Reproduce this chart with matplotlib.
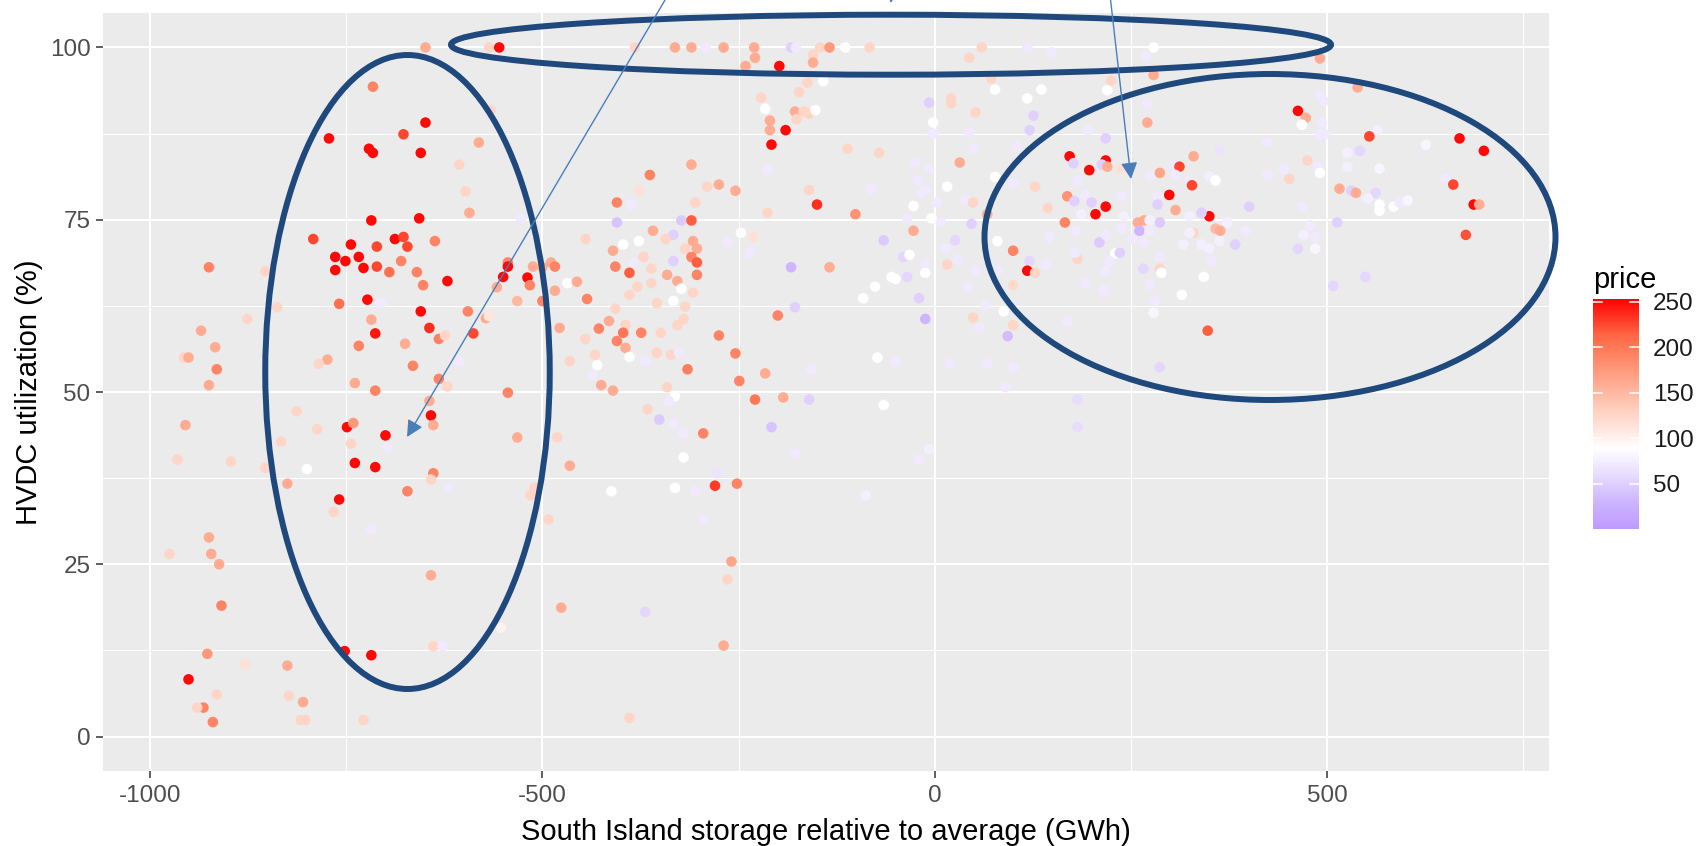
import matplotlib
matplotlib.use('Agg')
import numpy as np
import matplotlib.pyplot as plt
from matplotlib.colors import LinearSegmentedColormap
from matplotlib.patches import Ellipse, FancyArrowPatch

plt.rcParams['font.family'] = ['Liberation Sans', 'DejaVu Sans']
plt.rcParams['axes.unicode_minus'] = False

# South Island storage relative to average (GWh)
storage = [
    # left cluster, upper half
    -649, -568, -555, -716, -649, -677, -772, -721, -716, -655,
    -581, -566, -606, -598, -593, -527, -718, -657, -792, -688,
    -677, -672, -637, -744, -711, -764, -751, -734, -764, -728,
    -711, -695, -680, -660, -652, -621, -544, -544, -550, -519,
    -516, -558, -512, -500, -489, -484, -468, -456, -484, -532,
    -500, -925, -853, -838, -876, -935, -917, -957, -951, -915,
    -925, -759, -723, -706, -655, -718, -644, -713, -632, -624,
    -734, -675, -595, -572, -568, -588, -478, -774, -785, -665,
    -606, -465, -739, -713, -632, -621, -544,
    # left cluster, lower half
    -955, -965, -897, -853, -833, -813, -787, -800, -825, -749,
    -741, -744, -700, -698, -642, -644, -639, -670, -739, -713,
    -759, -766, -718, -639, -642, -672, -619, -532, -481, -465,
    -515, -510, -492, -925, -922, -975, -912, -909, -642, -476,
    -553, -639, -627, -927, -752, -718, -879, -825, -951, -915,
    -823, -805, -932, -940, -920, -808, -802, -728,
    # middle, upper half
    -382, -331, -310, -292, -269, -230, -183, -177, -146, -134,
    -114, -83, 60, 118, 149, -229, -241, -198, -155, -155,
    44, -162, -142, -173, -221, -216, -178, -167, -160, -152,
    -176, -210, -210, -190, -208, -213, -111, -71, -7, 21,
    21, 52, -2, -2, 77, 118, 136, 126, 121, 44,
    49, 105, 72, -25, -7, 32, -22, -12, -17, 16,
    77, 100, 128, -81, -160, -150, -101, -213, -27, 3,
    -35, -4, 8, 39, 49, 47, 67, 144, -27, -65,
    26, 14, 80, 100, 121, 118, 128, 141, 146, -40,
    -32, -12, 16, 29, 52, 80, -12, -35, -55, -50,
    -76, -91, -20, -12, 42, 65, 100, 88, 100, 49,
    57, 93, -73, -50, 19, 67, 100, 90, -157, -183,
    -134, -178, -200, -275, -254, -315, -249, -216, -247, -231,
    -264, -236, -254, -275, -290, -310, -363, -377, -405, -387,
    -405, -359, -323, -310, -305, -333, -343, -377, -397, -410,
    -445, -308, -303, -318, -310, -303, -303, -333, -371, -384,
    -407, -389, -361, -341, -328, -323, -361, -379, -389, -443,
    -407, -354, -333, -318, -308, -415, -394, -428, -397, -374,
    -405, -394, -349, -328, -320, -354, -336, -326, -369, -389,
    -430, -433, -445, -425, -410, -436, -341,
    # middle, lower half
    -331, -339, -366, -351, -333, -320, -295, -320, -277, -280,
    -252, -412, -331, -305, -295, -229, -193, -160, -208, -178,
    -65, -7, -20, -88, -259, -264, -369, -269, -389,
    # right cluster
    279, 269, 491, 225, 279, 220, 539, 271, 271, 491,
    496, 195, 218, 463, 473, 468, 493, 491, 498, 424,
    363, 330, 172, 177, 218, 213, 197, 220, 236, 182,
    307, 312, 287, 274, 307, 325, 328, 350, 358, 169,
    192, 178, 200, 218, 205, 187, 238, 299, 285, 284,
    307, 350, 325, 340, 241, 259, 267, 274, 287, 261,
    274, 166, 179, 238, 210, 218, 252, 266, 358, 364,
    373, 330, 325, 317, 340, 350, 363, 383, 396, 401,
    424, 445, 452, 475, 488, 491, 468, 516, 531, 537,
    526, 542, 564, 554, 526, 567, 562, 552, 567, 567,
    585, 593, 603, 626, 669, 700, 651, 661, 687, 694,
    677, 513, 478, 470, 485, 463, 485, 182, 179, 230,
    236, 223, 218, 287, 353, 266, 287, 289, 343, 192,
    215, 274, 315, 281, 279, 169, 348, 287, 549, 508,
    182, 182,
]

# HVDC utilization (%)
hvdc = [
    100, 100, 100, 94.3, 89.1, 87.4, 86.8, 85.3, 84.7, 84.7,
    86.2, 90.9, 83.0, 79.1, 76.0, 75.2, 74.9, 75.2, 72.2, 72.2,
    72.5, 71.1, 71.9, 71.4, 71.1, 69.6, 69.0, 69.6, 67.7, 68.0,
    68.2, 67.4, 69.0, 67.4, 65.5, 66.1, 68.8, 68.2, 66.7, 66.6,
    65.5, 65.2, 68.2, 68.1, 68.8, 68.2, 65.8, 66.0, 64.7, 63.2,
    63.2, 68.1, 67.5, 62.3, 60.6, 58.9, 56.5, 55.0, 55.0, 53.3,
    51.0, 62.8, 63.4, 62.9, 61.7, 60.5, 59.3, 58.5, 57.7, 58.2,
    56.7, 57.0, 61.7, 60.7, 61.0, 58.5, 59.3, 54.7, 54.1, 53.8,
    54.5, 54.5, 51.3, 50.2, 51.9, 50.8, 49.9,
    45.2, 40.2, 39.9, 39.0, 42.8, 47.2, 44.6, 38.8, 36.7, 44.9,
    45.5, 42.5, 43.7, 42.0, 46.6, 48.7, 45.2, 45.5, 39.7, 39.1,
    34.4, 32.6, 30.1, 38.2, 37.3, 35.6, 36.1, 43.4, 43.4, 39.3,
    35.0, 36.1, 31.5, 28.9, 26.5, 26.5, 25.0, 19.0, 23.4, 18.7,
    15.8, 13.1, 13.1, 12.0, 12.4, 11.8, 10.5, 10.3, 8.3, 6.1,
    5.9, 5.0, 4.2, 4.2, 2.1, 2.4, 2.4, 2.4,
    100, 100, 100, 100, 100, 100, 100, 100, 100, 100,
    100, 100, 100, 100, 99.3, 98.5, 97.3, 97.3, 98.9, 97.8,
    98.5, 94.9, 95.1, 93.5, 92.7, 91.1, 90.7, 90.7, 90.4, 90.9,
    89.6, 89.4, 88.0, 88.0, 85.9, 82.2, 85.3, 84.7, 92.0, 92.6,
    91.9, 90.6, 89.1, 87.5, 93.9, 92.6, 93.9, 90.1, 88.0, 87.7,
    85.3, 85.6, 95.5, 83.3, 82.4, 83.3, 80.7, 79.3, 78.8, 79.8,
    81.2, 80.3, 79.8, 79.5, 79.3, 77.2, 75.8, 76.0, 77.0, 77.5,
    75.2, 75.2, 74.6, 77.9, 77.5, 74.4, 75.8, 76.7, 73.4, 72.0,
    72.0, 70.8, 71.9, 70.5, 69.0, 67.6, 67.3, 68.5, 72.5, 69.6,
    69.9, 68.5, 68.5, 69.2, 67.6, 67.6, 67.3, 66.7, 66.7, 66.4,
    65.3, 63.6, 63.6, 60.6, 65.3, 62.6, 65.5, 61.7, 59.7, 60.8,
    59.3, 58.1, 55.0, 54.4, 54.1, 54.1, 53.6, 50.7, 53.3, 68.1,
    68.1, 62.3, 61.1, 58.2, 55.6, 53.3, 51.6, 52.7, 73.1, 72.5,
    71.7, 70.2, 79.2, 80.1, 79.8, 83.0, 81.5, 79.3, 77.5, 77.2,
    74.6, 73.4, 74.9, 74.9, 77.5, 72.8, 72.2, 71.9, 71.4, 70.5,
    72.2, 71.9, 70.8, 70.8, 69.6, 68.8, 67.0, 69.0, 69.6, 68.8,
    68.2, 67.3, 67.9, 67.0, 66.1, 65.0, 65.8, 65.3, 64.1, 63.5,
    62.1, 62.9, 63.2, 62.4, 64.4, 60.3, 59.7, 59.2, 58.6, 58.6,
    57.4, 56.4, 58.6, 59.7, 60.6, 55.7, 55.4, 55.7, 54.5, 55.1,
    53.9, 55.4, 57.7, 51.0, 50.2, 52.5, 50.7,
    49.4, 48.7, 47.5, 46.0, 45.4, 44.0, 44.0, 40.5, 38.2, 36.4,
    36.7, 35.6, 36.1, 35.6, 31.5, 48.9, 49.2, 48.9, 44.9, 41.1,
    48.1, 41.7, 40.2, 35.0, 25.4, 22.8, 18.1, 13.2, 2.7,
    100, 98.7, 98.4, 95.2, 96.0, 93.8, 94.2, 91.8, 89.1, 93.2,
    92.2, 88.0, 86.8, 90.8, 89.8, 88.8, 89.1, 87.4, 87.4, 86.2,
    85.1, 84.2, 84.2, 83.2, 83.6, 83.0, 82.2, 82.7, 82.4, 80.7,
    83.0, 82.7, 81.8, 81.3, 81.5, 80.7, 80.0, 81.3, 80.7, 78.4,
    78.6, 77.7, 77.5, 76.9, 75.8, 75.8, 78.4, 78.6, 78.4, 77.2,
    76.4, 75.5, 75.5, 76.0, 75.5, 74.6, 74.9, 74.9, 74.6, 73.4,
    73.4, 74.6, 73.4, 73.7, 71.7, 72.8, 72.2, 71.7, 73.7, 73.4,
    74.6, 73.1, 73.1, 71.4, 71.4, 70.8, 71.9, 71.4, 73.4, 76.9,
    81.5, 82.4, 80.9, 83.6, 82.7, 81.8, 76.9, 79.5, 79.2, 78.9,
    84.7, 85.0, 88.0, 87.1, 82.7, 82.4, 78.9, 78.1, 77.2, 76.3,
    76.9, 77.5, 77.8, 85.9, 86.8, 85.0, 81.0, 80.1, 77.2, 77.2,
    72.8, 74.6, 74.2, 72.8, 72.5, 70.8, 70.8, 69.3, 70.2, 70.1,
    70.2, 69.0, 67.6, 69.6, 69.0, 67.9, 67.9, 67.3, 66.7, 65.8,
    64.7, 65.6, 64.1, 63.2, 61.5, 60.3, 58.9, 53.6, 66.7, 65.4,
    48.9, 44.9,
]

# price (colour of each point)
price = [
    160, 125, 250, 190, 250, 225, 250, 250, 250, 250,
    160, 125, 125, 125, 160, 70, 250, 250, 225, 250,
    225, 225, 190, 250, 225, 250, 250, 250, 250, 250,
    225, 205, 190, 190, 190, 250, 190, 250, 250, 250,
    190, 160, 160, 160, 160, 190, 88, 160, 160, 150,
    190, 190, 125, 125, 125, 160, 160, 125, 160, 190,
    160, 205, 250, 70, 250, 160, 235, 245, 190, 125,
    190, 160, 190, 160, 110, 225, 160, 160, 125, 190,
    70, 125, 160, 190, 190, 125, 190,
    160, 125, 125, 125, 125, 125, 125, 88, 160, 250,
    175, 125, 250, 70, 250, 160, 160, 110, 250, 250,
    250, 125, 70, 190, 125, 190, 70, 160, 125, 160,
    125, 125, 125, 160, 160, 125, 160, 190, 160, 160,
    100, 125, 70, 175, 250, 250, 115, 160, 250, 125,
    125, 160, 190, 125, 190, 125, 125, 125,
    125, 160, 160, 70, 160, 160, 50, 70, 125, 175,
    88, 125, 125, 70, 70, 160, 160, 250, 125, 160,
    125, 125, 88, 125, 125, 88, 160, 125, 125, 88,
    125, 160, 160, 250, 250, 70, 125, 125, 50, 125,
    125, 125, 88, 70, 88, 88, 88, 50, 50, 70,
    70, 70, 125, 70, 70, 160, 70, 70, 70, 88,
    88, 70, 125, 70, 125, 235, 180, 125, 88, 70,
    70, 88, 70, 70, 125, 50, 160, 125, 160, 45,
    55, 70, 88, 190, 55, 250, 125, 70, 70, 55,
    88, 70, 125, 70, 70, 70, 88, 55, 88, 88,
    88, 88, 50, 30, 70, 70, 120, 88, 125, 125,
    70, 35, 88, 70, 70, 70, 70, 70, 70, 30,
    160, 50, 190, 190, 190, 195, 190, 160, 88, 115,
    70, 70, 160, 160, 125, 160, 190, 115, 190, 70,
    40, 160, 45, 215, 125, 50, 125, 88, 88, 160,
    125, 160, 160, 125, 190, 215, 190, 50, 125, 70,
    190, 215, 125, 160, 160, 88, 125, 125, 125, 190,
    125, 125, 88, 125, 125, 160, 125, 190, 200, 190,
    190, 160, 125, 125, 125, 125, 125, 70, 70, 88,
    88, 125, 125, 160, 160, 70, 125,
    88, 70, 125, 45, 70, 70, 190, 88, 65, 230,
    190, 88, 88, 70, 70, 200, 160, 50, 40, 70,
    88, 75, 70, 75, 165, 125, 55, 160, 125,
    88, 70, 160, 125, 160, 88, 160, 70, 160, 70,
    70, 70, 50, 250, 160, 88, 70, 70, 70, 70,
    65, 160, 250, 50, 250, 50, 250, 160, 115, 70,
    70, 225, 165, 70, 70, 70, 225, 75, 88, 180,
    70, 50, 50, 250, 250, 75, 70, 250, 70, 50,
    160, 250, 75, 50, 75, 160, 160, 75, 45, 30,
    70, 190, 70, 70, 45, 70, 70, 70, 150, 160,
    75, 125, 75, 75, 75, 75, 75, 50, 70, 50,
    70, 70, 125, 125, 70, 88, 70, 160, 50, 160,
    75, 55, 75, 225, 75, 80, 55, 75, 88, 88,
    85, 70, 80, 80, 250, 250, 70, 225, 250, 160,
    220, 50, 70, 75, 70, 55, 80, 125, 70, 88,
    50, 70, 70, 70, 70, 55, 125, 88, 88, 70,
    70, 70, 88, 70, 80, 70, 215, 55, 55, 55,
    60, 60,
]

x_ticks = [-1000, -500, 0, 500]
y_ticks = [0, 25, 50, 75, 100]
legend_ticks = [50, 100, 150, 200, 250]

W, H = 1698, 846
DPI = 100


def fig_xy(px, py):
    """Pixel position (origin top-left) -> figure fraction."""
    return px / W, 1 - py / H


# gradient2-like scale: purple -> white -> red
p_lo, p_hi = 0.5, 253
nodes = [(0.5, '#BE9CFF'), (30, '#CFB6FF'), (60, '#E8DDFF'), (88, '#FFFFFF'),
         (131, '#FFCFBE'), (171, '#FF9E81'), (212, '#FF6846'), (253, '#FF0000')]
cmap = LinearSegmentedColormap.from_list(
    'price', [((p - p_lo) / (p_hi - p_lo), c) for p, c in nodes])

fig = plt.figure(figsize=(W / DPI, H / DPI), dpi=DPI)
ax = fig.add_axes([103 / W, 75 / H, 1446 / W, 758 / H])
ax.set_facecolor('#EBEBEB')
for s in ax.spines.values():
    s.set_visible(False)

ax.set_xlim(-1060, 783)
ax.set_ylim(-5, 105)
ax.set_xticks(x_ticks)
ax.set_yticks(y_ticks)
ax.set_xticks([-750, -250, 250, 750], minor=True)
ax.set_yticks([12.5, 37.5, 62.5, 87.5], minor=True)
ax.grid(True, which='major', color='white', linewidth=1.5)
ax.grid(True, which='minor', color='white', linewidth=0.75)
ax.set_axisbelow(True)
ax.tick_params(which='major', length=5, width=1.1, color='#333333',
               labelsize=17.5, labelcolor='#4D4D4D')
ax.tick_params(axis='x', which='major', pad=5)
ax.tick_params(axis='y', which='major', pad=4)
ax.tick_params(which='minor', length=0)

ax.scatter(storage, hvdc, c=price, cmap=cmap, vmin=p_lo, vmax=p_hi,
           s=58, edgecolors='none', zorder=3)

fig.text(*fig_xy(826, 832), 'South Island storage relative to average (GWh)',
         ha='center', va='center', fontsize=21, color='black')
fig.text(*fig_xy(29, 392), 'HVDC utilization (%)', rotation=90,
         ha='center', va='center', fontsize=21, color='black')

# colour bar legend
fig.text(*fig_xy(1593, 288), 'price', ha='left', va='baseline',
         fontsize=21, color='black')
cax = fig.add_axes([1593 / W, 1 - 529 / H, 46 / W, 230 / H])
grad = np.linspace(p_lo, p_hi, 300).reshape(-1, 1)
cax.imshow(grad, cmap=cmap, vmin=p_lo, vmax=p_hi, origin='lower',
           extent=[0, 1, p_lo, p_hi], aspect='auto')
cax.set_xlim(0, 1)
cax.set_ylim(p_lo, p_hi)
cax.set_xticks([])
cax.yaxis.tick_right()
cax.set_yticks(legend_ticks)
cax.tick_params(axis='y', length=0, pad=10, labelsize=17.5, labelcolor='#1A1A1A')
for s in cax.spines.values():
    s.set_visible(False)
for t in legend_ticks:
    cax.plot([0, 0.19], [t, t], color='white', linewidth=1.1)
    cax.plot([0.81, 1], [t, t], color='white', linewidth=1.1)

# hand-drawn annotation shapes
ell_color = '#1F497D'
for cx, cy, ew, eh in [(407.5, 372, 284.5, 634), (891, 44.7, 880, 60),
                       (1270, 237, 571, 326)]:
    fig.add_artist(Ellipse(fig_xy(cx, cy), ew / W, eh / H,
                           transform=fig.transFigure, fill=False,
                           edgecolor=ell_color, linewidth=4.3, zorder=10))

arrow_color = '#4A7EBB'
for (x0, y0), (x1, y1) in [((668, -5), (407, 437)), ((893, -40), (891, 3)),
                           ((1110, -5), (1131, 179))]:
    fig.add_artist(FancyArrowPatch(fig_xy(x0, y0), fig_xy(x1, y1),
                                   transform=fig.transFigure,
                                   arrowstyle='-|>,head_length=10,head_width=5',
                                   color=arrow_color, linewidth=1.0,
                                   shrinkA=0, shrinkB=0, zorder=11))

fig.savefig('out.png', dpi=DPI)
